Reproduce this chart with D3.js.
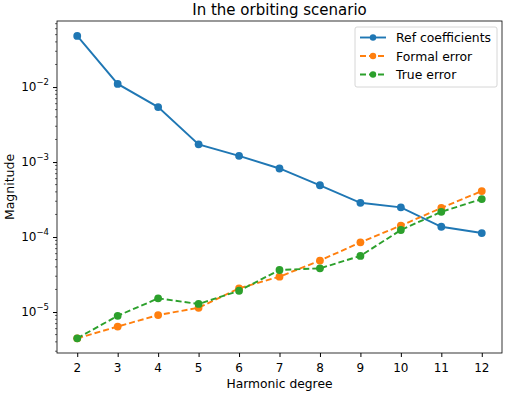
<!DOCTYPE html>
<html>
<head>
<meta charset="utf-8">
<script src="https://cdn.jsdelivr.net/npm/d3@7"></script>
<style>
  body { margin: 0; background: #fff; }
  svg { font-family: "DejaVu Sans", sans-serif; display: block; }
</style>
</head>
<body>
<svg id="chart"></svg>
<script>
// Degrés harmoniques
const degrees = [2, 3, 4, 5, 6, 7, 8, 9, 10, 11, 12];
// Séries
const refCoeffs = [0.048, 0.011, 0.0054, 0.00172, 0.00121, 0.00082, 0.00049, 0.000286, 0.000249, 0.000137, 0.000113];
const formalError = [4.46e-6, 6.4e-6, 9.1e-6, 1.14e-5, 2.07e-5, 2.96e-5, 4.85e-5, 8.5e-5, 1.42e-4, 2.44e-4, 4.1e-4];
const trueError = [4.46e-6, 8.9e-6, 1.52e-5, 1.28e-5, 1.92e-5, 3.63e-5, 3.82e-5, 5.6e-5, 1.24e-4, 2.17e-4, 3.21e-4];
const yTicks = [1e-5, 1e-4, 1e-3, 1e-2];
const yExps = ["\u22125", "\u22124", "\u22123", "\u22122"];

const series = [
  { name: "Ref coefficients", values: refCoeffs, color: "#1f77b4", dash: null },
  { name: "Formal error", values: formalError, color: "#ff7f0e", dash: "6,3" },
  { name: "True error", values: trueError, color: "#2ca02c", dash: "6,3" },
];

const width = 505;
const height = 394;
const svg = d3.select("#chart").attr("width", width).attr("height", height);

const margin = { top: 21, right: 3, bottom: 41, left: 57 };
const innerWidth = width - margin.left - margin.right;
const innerHeight = height - margin.top - margin.bottom;

// Échelles en coordonnées absolues de la page
const x = d3.scaleLinear().domain([1.5, 12.5]).range([margin.left, margin.left + innerWidth]);
const y = d3.scaleLog().domain([2.84e-6, 0.076]).range([margin.top + innerHeight, margin.top]);

// Axe X (traits)
const xAxis = svg.append("g")
  .attr("transform", `translate(0,${margin.top + innerHeight})`)
  .call(d3.axisBottom(x).tickValues(degrees).tickSize(4));
xAxis.select(".domain").remove();
xAxis.selectAll("text").remove();

// Étiquettes X
svg.selectAll("text.xlab").data(degrees).join("text")
  .attr("class", "xlab")
  .attr("x", (d) => x(d)).attr("y", margin.top + innerHeight + 19)
  .attr("text-anchor", "middle").attr("font-size", 12).attr("fill", "#000")
  .text((d) => d);

// Axe Y : graduations mineures
const minor = [];
for (let e = -6; e <= -2; e++) {
  for (let m = 2; m <= 9; m++) {
    const v = m * Math.pow(10, e);
    if (v >= y.domain()[0] && v <= y.domain()[1]) minor.push(v);
  }
}
svg.append("g").selectAll("line").data(minor).join("line")
  .attr("x1", margin.left - 2).attr("x2", margin.left)
  .attr("y1", (d) => y(d)).attr("y2", (d) => y(d))
  .attr("stroke", "#000").attr("stroke-width", 0.6);

const yAxis = svg.append("g")
  .attr("transform", `translate(${margin.left},0)`)
  .call(d3.axisLeft(y).tickValues(yTicks).tickSize(4));
yAxis.select(".domain").remove();
yAxis.selectAll("text").remove();

// Étiquettes Y en puissances de dix
const yLabels = svg.selectAll("text.ylab").data(yTicks).join("text")
  .attr("class", "ylab")
  .attr("x", margin.left - 8).attr("y", (d) => y(d) + 4)
  .attr("text-anchor", "end").attr("fill", "#000").attr("font-size", 12);
yLabels.append("tspan").text("10");
yLabels.append("tspan").attr("font-size", 8.5).attr("dy", -6).text((d, i) => yExps[i]);

// Cadre
svg.append("rect").attr("x", margin.left).attr("y", margin.top)
  .attr("width", innerWidth).attr("height", innerHeight)
  .attr("fill", "none").attr("stroke", "#000").attr("stroke-width", 0.8);

// Lignes et points
const line = d3.line().x((d, i) => x(degrees[i])).y((d) => y(d));
series.forEach((s) => {
  svg.append("path").datum(s.values)
    .attr("fill", "none").attr("stroke", s.color).attr("stroke-width", 1.9)
    .attr("stroke-dasharray", s.dash).attr("d", line);
  svg.append("g").selectAll("circle").data(s.values).join("circle")
    .attr("cx", (d, i) => x(degrees[i])).attr("cy", (d) => y(d))
    .attr("r", 3.9).attr("fill", s.color);
});

// Légende
const leg = svg.append("g").attr("transform", "translate(355,27)");
leg.append("rect").attr("width", 142).attr("height", 60).attr("rx", 2)
  .attr("fill", "#fff").attr("fill-opacity", 0.8).attr("stroke", "#ccc").attr("stroke-width", 0.8);
series.forEach((s, i) => {
  const yy = 10.5 + i * 18.5;
  leg.append("line").attr("x1", 5).attr("x2", 31).attr("y1", yy).attr("y2", yy)
    .attr("stroke", s.color).attr("stroke-width", 1.9).attr("stroke-dasharray", s.dash);
  leg.append("circle").attr("cx", 18).attr("cy", yy).attr("r", 3.2).attr("fill", s.color);
  leg.append("text").attr("x", 41).attr("y", yy + 4.5)
    .attr("font-size", 12.4).attr("fill", "#000").text(s.name);
});

// Titres
svg.append("text").attr("x", margin.left + innerWidth / 2).attr("y", 15)
  .attr("text-anchor", "middle").attr("font-size", 15).attr("fill", "#000")
  .text("In the orbiting scenario");
svg.append("text").attr("x", margin.left + innerWidth / 2).attr("y", 388)
  .attr("text-anchor", "middle").attr("font-size", 12.3).attr("fill", "#000")
  .text("Harmonic degree");
svg.append("text").attr("transform", "rotate(-90)")
  .attr("x", -(margin.top + innerHeight / 2)).attr("y", 14)
  .attr("text-anchor", "middle").attr("font-size", 12.5).attr("fill", "#000")
  .text("Magnitude");
</script>
</body>
</html>
